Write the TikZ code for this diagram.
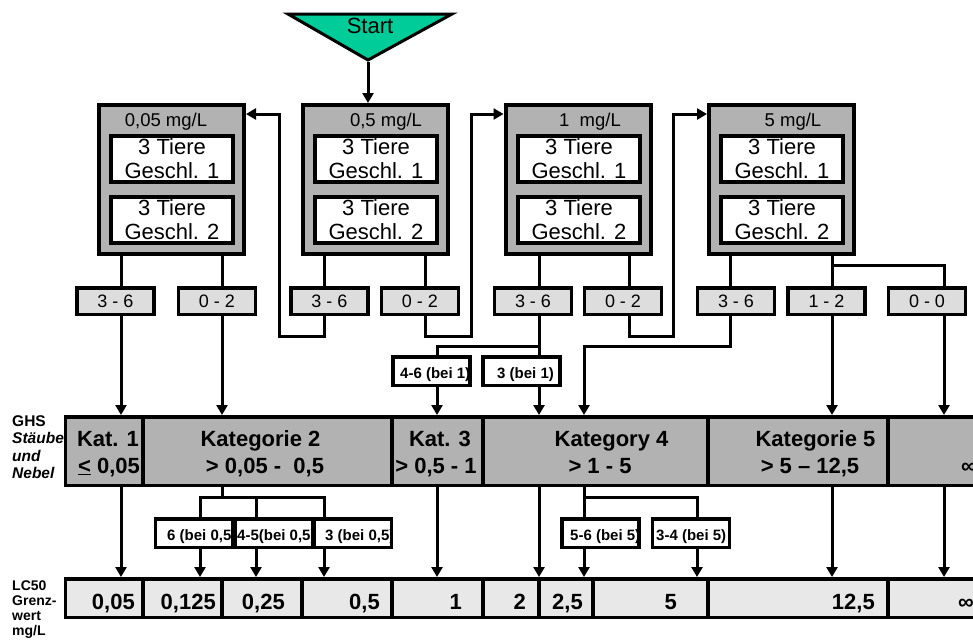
\documentclass[tikz,border=0pt]{standalone}
\usepackage{fontspec}
\setmainfont{Liberation Sans}
\usetikzlibrary{arrows.meta}

\definecolor{boxgray}{RGB}{178,178,178}
\definecolor{tabgray}{RGB}{221,221,221}
\definecolor{rowgray}{RGB}{232,232,232}
\definecolor{startgreen}{RGB}{0,204,153}

\newcommand\setfs[2]{\fontsize{#1}{#2}\selectfont}

% small white result box; the label is clipped to the box outline
\newcommand\beibox[6]{% name, centre x, centre y, text start x, text baseline y, label
  \node[bei] (#1) at (#2,#3) {};
  \begin{scope}
    \clip (#1.north west) rectangle (#1.south east);
    \node[beitext] (#1-label) at (#4,#5) {#6};
  \end{scope}
  \draw[line width=3.5pt] (#1.north west) rectangle (#1.south east);}

\begin{document}
\begin{tikzpicture}[x=1pt,y=-1pt,line join=miter,
  conn/.style={line width=3pt},
  arr/.style={line width=3pt,-{Triangle[length=10pt,width=11pt]}},
  dose/.style={draw,line width=4pt,fill=boxgray,minimum width=145pt,minimum height=149pt,inner sep=0pt},
  animals/.style={draw,line width=4pt,fill=white,minimum width=122pt,minimum height=46pt,inner sep=0pt,align=center,font=\setfs{22}{24}},
  doselabel/.style={anchor=base,inner sep=0pt,font=\setfs{18.5}{20}},
  tally/.style={draw,line width=3.5pt,fill=tabgray,minimum width=77pt,minimum height=26.5pt,inner sep=0pt,font=\setfs{18}{20}},
  bei/.style={draw,line width=3.5pt,fill=white,minimum width=77pt,minimum height=28.5pt,inner sep=0pt,outer sep=0pt},
  beitext/.style={anchor=base west,inner sep=0pt,font=\setfs{15}{17}\bfseries},
  ghs/.style={draw,line width=3.5pt,fill=boxgray,minimum height=68.5pt,inner sep=0pt},
  lc/.style={draw,line width=3.5pt,fill=rowgray,minimum height=38.5pt,inner sep=0pt},
  celltext/.style={anchor=base,inner sep=0pt,font=\setfs{22}{24}\bfseries},
  cellright/.style={anchor=base east,inner sep=0pt,font=\setfs{22}{24}\bfseries},
  cellleft/.style={anchor=base west,inner sep=0pt,font=\setfs{22}{24}\bfseries},
  sidea/.style={anchor=base west,inner sep=0pt,font=\setfs{15.5}{17}\bfseries},
  sideb/.style={anchor=base west,inner sep=0pt,font=\setfs{14}{16}\bfseries}]

\useasboundingbox (0,0) rectangle (973,641);
\clip (0,0) rectangle (973,641);

% ---- start marker ----
\filldraw[fill=startgreen,line width=3pt] (288,14) -- (452,14) -- (368,60) -- cycle;
\coordinate (apex) at (368,62);
\node[anchor=base,inner sep=0pt,font=\setfs{22}{24}] (start) at (370,33) {Start};

% ---- dose groups ----
\node[dose] (b1) at (171.5,179.5) {};
\node[dose] (b2) at (375,179.5) {};
\node[dose] (b3) at (578,179.5) {};
\node[dose] (b4) at (781.5,179.5) {};

\node[doselabel] (d1) at (166,126) {0,05 mg/L};
\node[doselabel] (d2) at (386,126) {0,5 mg/L};
\node[doselabel] (d3) at (590,126) {1~~mg/L};
\node[doselabel] (d4) at (793,126) {5 mg/L};

\node[animals] (a1) at (172,159) {3 Tiere\\Geschl. 1};
\node[animals] (a2) at (172,219.5) {3 Tiere\\Geschl. 2};
\node[animals] (a3) at (376,159) {3 Tiere\\Geschl. 1};
\node[animals] (a4) at (376,219.5) {3 Tiere\\Geschl. 2};
\node[animals] (a5) at (579,159) {3 Tiere\\Geschl. 1};
\node[animals] (a6) at (579,219.5) {3 Tiere\\Geschl. 2};
\node[animals] (a7) at (782,159) {3 Tiere\\Geschl. 1};
\node[animals] (a8) at (782,219.5) {3 Tiere\\Geschl. 2};

\draw[arr] (apex) -- (b2.north -| apex);

% ---- counts of deaths ----
\node[tally] (s1a) at (115.5,301) {3 - 6};
\node[tally] (s1b) at (217,301) {0 - 2};
\node[tally] (s2a) at (329.5,301) {3 - 6};
\node[tally] (s2b) at (420,301) {0 - 2};
\node[tally] (s3a) at (533,301) {3 - 6};
\node[tally] (s3b) at (623,301) {0 - 2};
\node[tally] (s4a) at (736,301) {3 - 6};
\node[tally] (s4b) at (826.5,301) {1 - 2};
\node[tally] (s4c) at (927,301) {0 - 0};

\draw[conn] (b1.south -| 121,0) -- (s1a.north -| 121,0);
\draw[conn] (b1.south -| 222,0) -- (s1b.north -| 222,0);
\draw[conn] (b2.south -| 324,0) -- (s2a.north -| 324,0);
\draw[conn] (b2.south -| 425,0) -- (s2b.north -| 425,0);
\draw[conn] (b3.south -| 539,0) -- (s3a.north -| 539,0);
\draw[conn] (b3.south -| 629,0) -- (s3b.north -| 629,0);
\draw[conn] (b4.south -| 730,0) -- (s4a.north -| 730,0);
\draw[conn] (b4.south -| 832,0) -- (s4b.north -| 832,0);
\draw[conn] (b4.south -| 832,0) |- (944,265) -- (s4c.north -| 944,0);

% ---- next dose ----
\draw[arr] (s2a.south -| 324,0) -- (324,336) -| (279,114) -- (b1.east |- 0,114);
\draw[arr] (s2b.south -| 425,0) -- (425,336) -| (471,114) -- (b3.west |- 0,114);
\draw[arr] (s3b.south -| 629,0) -- (629,336) -| (673,114) -- (b4.west |- 0,114);

% ---- side labels ----
\node[sidea] (lg1) at (12,426) {GHS};
\node[sidea,font=\setfs{15.5}{17}\bfseries\itshape] (lg2) at (12,443.5) {Stäube};
\node[sidea,font=\setfs{15.5}{17}\bfseries\itshape] (lg3) at (12,461) {und};
\node[sidea,font=\setfs{15.5}{17}\bfseries\itshape] (lg4) at (12,478.5) {Nebel};
\node[sideb] (ll1) at (12,590) {LC50};
\node[sideb] (ll2) at (12,605) {Grenz-};
\node[sideb] (ll3) at (12,620) {wert};
\node[sideb] (ll4) at (12,635) {mg/L};

% ---- results at 1 mg/L ----
\beibox{k1}{431.5}{371}{400}{378}{4-6 (bei 1)}
\beibox{k2}{521.5}{371}{497}{378}{3 (bei 1)}
\draw[conn] (s3a.south -| 539,0) -- (k2.north -| 539,0);
\draw[conn] (s3a.south -| 539,0) |- (437,346) -- (k1.north -| 437,0);

% ---- GHS categories ----
\node[ghs,minimum width=77.5pt] (g1) at (104.25,451) {};
\node[ghs,minimum width=249pt] (g2) at (267.5,451) {};
\node[ghs,minimum width=91pt] (g3) at (437.5,451) {};
\node[ghs,minimum width=225pt] (g4) at (595.5,451) {};
\node[ghs,minimum width=180pt] (g5) at (798,451) {};
\node[ghs,minimum width=122pt] (g6) at (949,451) {};

\node[celltext] at (108,446) {Kat. 1};
\node[celltext] at (109,473) {\underline{<} 0,05};
\node[celltext] at (260.5,446) {Kategorie 2};
\node[celltext] at (265,473) {> 0,05 -~~0,5};
\node[celltext] at (440,446) {Kat. 3};
\node[celltext] at (436,473) {> 0,5 - 1};
\node[celltext] at (611.5,446) {Kategory 4};
\node[celltext] at (600,473) {> 1 - 5};
\node[celltext] at (815.5,446) {Kategorie 5};
\node[celltext] at (810,473) {> 5 – 12,5};
\node[cellleft] at (961,473) {∞};

\draw[arr] (s1a.south -| 121,0) -- (g1.north -| 121,0);
\draw[arr] (s1b.south -| 222,0) -- (g2.north -| 222,0);
\draw[arr] (k1.south -| 437,0) -- (g3.north -| 437,0);
\draw[arr] (k2.south -| 539,0) -- (g4.north -| 539,0);
\draw[arr] (s4a.south -| 730,0) |- (584,346) -- (g4.north -| 584,0);
\draw[arr] (s4b.south -| 832,0) -- (g5.north -| 832,0);
\draw[arr] (s4c.south -| 944,0) -- (g6.north -| 944,0);

% ---- results at 0,5 and 5 mg/L ----
\beibox{m1}{194}{533}{167}{540}{6 (bei 0,5)}
\beibox{m2}{274}{533}{237}{540}{4-5(bei 0,5)}
\beibox{m3}{353}{533}{325}{540}{3 (bei 0,5)}
\beibox{n1}{600.5}{533}{570}{540}{5-6 (bei 5)}
\beibox{n2}{691}{533}{656}{540}{3-4 (bei 5)}

\draw[conn] (g2.south -| 222,0) -- (222,497);
\draw[conn] (m1.north -| 200,0) -- (200,497) -- (324,497) -- (m3.north -| 324,0);
\draw[conn] (256,497) -- (m2.north -| 256,0);
\draw[conn] (g4.south -| 584,0) -- (n1.north -| 584,0);
\draw[conn] (584,497) -| (n2.north -| 697,0);

% ---- LC50 limit values ----
\node[lc,minimum width=77.5pt] (l1) at (104.25,598) {};
\node[lc,minimum width=79pt] (l2) at (182.5,598) {};
\node[lc,minimum width=80pt] (l3) at (262,598) {};
\node[lc,minimum width=90pt] (l4) at (347,598) {};
\node[lc,minimum width=91pt] (l5) at (437.5,598) {};
\node[lc,minimum width=56pt] (l6) at (511,598) {};
\node[lc,minimum width=54pt] (l7) at (566,598) {};
\node[lc,minimum width=115pt] (l8) at (650.5,598) {};
\node[lc,minimum width=180pt] (l9) at (798,598) {};
\node[lc,minimum width=122pt] (l10) at (949,598) {};

\node[cellright] at (135,609) {0,05};
\node[cellright] at (216,609) {0,125};
\node[cellright] at (285,609) {0,25};
\node[cellright] at (380,609) {0,5};
\node[cellright] at (462,609) {1};
\node[cellright] at (526,609) {2};
\node[cellright] at (583,609) {2,5};
\node[cellright] at (677,609) {5};
\node[cellright] at (875,609) {12,5};
\node[cellleft] at (958,609) {∞};

\draw[arr] (g1.south -| 121,0) -- (l1.north -| 121,0);
\draw[arr] (m1.south -| 200,0) -- (l2.north -| 200,0);
\draw[arr] (m2.south -| 256,0) -- (l3.north -| 256,0);
\draw[arr] (m3.south -| 324,0) -- (l4.north -| 324,0);
\draw[arr] (g3.south -| 437,0) -- (l5.north -| 437,0);
\draw[arr] (g4.south -| 539,0) -- (l6.north -| 539,0);
\draw[arr] (n1.south -| 584,0) -- (l7.north -| 584,0);
\draw[arr] (n2.south -| 697,0) -- (l8.north -| 697,0);
\draw[arr] (g5.south -| 832,0) -- (l9.north -| 832,0);
\draw[arr] (g6.south -| 944,0) -- (l10.north -| 944,0);

\end{tikzpicture}
\end{document}
